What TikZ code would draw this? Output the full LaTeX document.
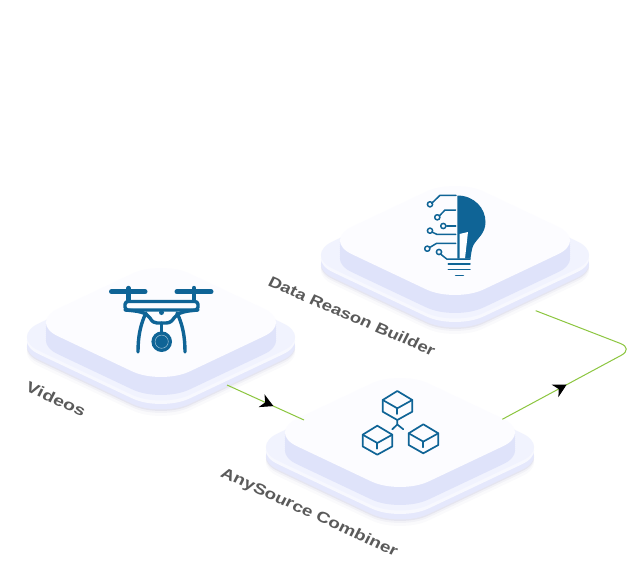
\documentclass[tikz,border=0pt]{standalone}
\usepackage{fontspec}
\setmainfont{Liberation Sans}
\usetikzlibrary{arrows.meta,decorations.markings}
\definecolor{iconblue}{HTML}{0F6496}
\definecolor{flowgreen}{HTML}{8CC63F}
\definecolor{tileside}{HTML}{DFE3FA}
\definecolor{tiletop}{HTML}{FCFCFF}
\definecolor{plate}{HTML}{F1F3FE}
\definecolor{lip}{HTML}{E5E8FC}
\definecolor{labelgray}{HTML}{5A5A5A}
\newcommand\rhomb[5]{\fill[#1,rounded corners=32pt] (#2-#4,#3) -- (#2,#3-#5) -- (#2+#4,#3) -- (#2,#3+#5) -- cycle;}
\newcommand\tilebox[2]{%
  \foreach \s/\o in {16/.02,13/.03,11/.05}{\fill[black!60!blue,opacity=\o,rounded corners=32pt] (#1-151,#2+14+\s) -- (#1,#2+14+\s-71.5) -- (#1+151,#2+14+\s) -- (#1,#2+14+\s+71.5) -- cycle;}
  \rhomb{lip}{#1}{#2+23.5}{151}{71.5}
  \rhomb{plate!60!white}{#1}{#2+18}{151}{71.5}
  \rhomb{plate}{#1}{#2+14.5}{151}{71.5}
  \foreach \s in {18,16,...,2}{\rhomb{tileside}{#1}{#2+\s}{132}{62.5}}
  \rhomb{tiletop}{#1}{#2}{132}{62.5}
}
\tikzset{
  iconline/.style={draw=iconblue,line cap=round,line join=round},
  flow/.style={draw=flowgreen,line width=1pt},
  tilelabel/.style={text=labelgray,font=\bfseries\fontsize{12.5}{12.5}\selectfont,inner sep=0pt},
}
\begin{document}
\begin{tikzpicture}[x=1pt,y=-1pt]
\useasboundingbox (0,0) rectangle (633,586);
\fill[white] (0,0) rectangle (633,586);
\tilebox{161}{322.5}
\tilebox{455}{240.5}
\tilebox{400}{432.5}
% connectors
\coordinate (videosOut) at (227,385);
\coordinate (combinerIn) at (304,420);
\coordinate (combinerOut) at (502.3,419.3);
\coordinate (bend) at (633.7,348.6);
\coordinate (builderIn) at (535.7,310.7);
\draw[flow,postaction={decorate},decoration={markings,mark=at position 51pt with {\arrow[black]{Stealth[length=13pt,width=14pt,inset=4pt]}}}] (videosOut) -- (combinerIn);
\draw[flow,rounded corners=14pt,postaction={decorate},decoration={markings,mark=at position 73pt with {\arrow[black]{Stealth[length=13pt,width=14pt,inset=4pt]}}}] (combinerOut) -- (bend) -- (builderIn);
% drone
\begin{scope}[iconline,line width=3.4pt]
\draw[line width=5pt] (111.5,291.7) -- (145,291.7);
\draw[line width=5pt] (177,291.7) -- (211,291.7);
\draw[line width=4.4pt] (128.5,288) -- (128.5,300);
\draw[line width=4.4pt] (194,288) -- (194,300);
\draw[rounded corners=3pt] (125,310) -- (125,301.5) -- (198,301.5) -- (198,310) -- cycle;
\draw (125,310) .. controls (138,311) and (146,312) .. (150,318) .. controls (152,322) and (155,323) .. (157,323) -- (166,323) .. controls (170,323) and (172,321) .. (174,318) .. controls (178,312) and (186,311) .. (198,310);
\draw (146,313) .. controls (140,325) and (138,338) .. (138,352);
\draw (177,313) .. controls (183,325) and (185,338) .. (185,352);
\draw (161.7,323) -- (161.7,333);
\end{scope}
\fill[iconblue] (161.5,312.5) circle (2.5);
\fill[iconblue] (161.7,341.7) circle (10.3);
\draw[white!60!iconblue,line width=.5pt] (161.7,341.7) circle (6.6);
% bulb
\fill[iconblue] (457.3,195.5) .. controls (474,195.5) and (485.5,208) .. (485.5,222) .. controls (485.5,234) and (477,238) .. (473,246) .. controls (471.5,250) and (471,255) .. (470.5,258.5) -- (457.3,258.5) -- cycle;
\fill[white] (459.5,234) -- (468,232) -- (465,258.5) -- (459.5,258.5) -- cycle;
\begin{scope}[iconline,line width=1.5pt]
\draw (456,195.3) -- (440,195.3) -- (431.7,203.3);
\draw (430,204.3) circle (2.6);
\draw (455.7,210) -- (445,210) -- (439.3,216);
\draw (437.3,217.3) circle (2.6);
\draw (455.7,226) -- (446.7,226);
\draw (443.3,226) circle (2.6);
\draw (455.7,234.3) -- (436.7,234.3) -- (432,232);
\draw (430,230.7) circle (2.6);
\draw (455.7,243.3) -- (436.7,243.3) -- (430,247.3);
\draw (427.3,248.7) circle (2.6);
\draw (440.5,254) -- (446.7,259) -- (470,259);
\draw (439,252) circle (2.6);
\draw (448.3,264) -- (470,264);
\draw (448.3,269.3) -- (470,269.3);
\draw (455.7,275.7) -- (463.3,275.7);
\end{scope}
% cubes
\begin{scope}[iconline,line width=1.7pt]
\foreach \dx/\dy in {0/0,-20/34.7,26/33.3}{
\begin{scope}[shift={(\dx,\dy)}]
\draw (397.3,391) -- (412.3,400) -- (412.3,411.7) -- (397.3,420) -- (382.7,411.7) -- (382.7,400) -- cycle;
\draw (382.7,400) -- (397.3,408.3) -- (412.3,400);
\draw (397.3,408.3) -- (397.3,414);
\end{scope}}
\draw (397.3,420) -- (397.3,424.5) -- (392.3,429.3);
\draw (397.3,424.5) -- (403.3,429.3);
\end{scope}
% labels
\node[tilelabel,cm={1.42,-0.64,0.55,1.08,(0,0)}] (videos) at (56,399) {Videos};
\node[tilelabel,cm={1.35,-0.58,0.55,1.08,(0,0)}] (builder) at (352,316) {Data Reason Builder};
\node[tilelabel,cm={1.37,-0.63,0.55,1.08,(0,0)}] (combiner) at (309,513) {AnySource Combiner};
\end{tikzpicture}
\end{document}
